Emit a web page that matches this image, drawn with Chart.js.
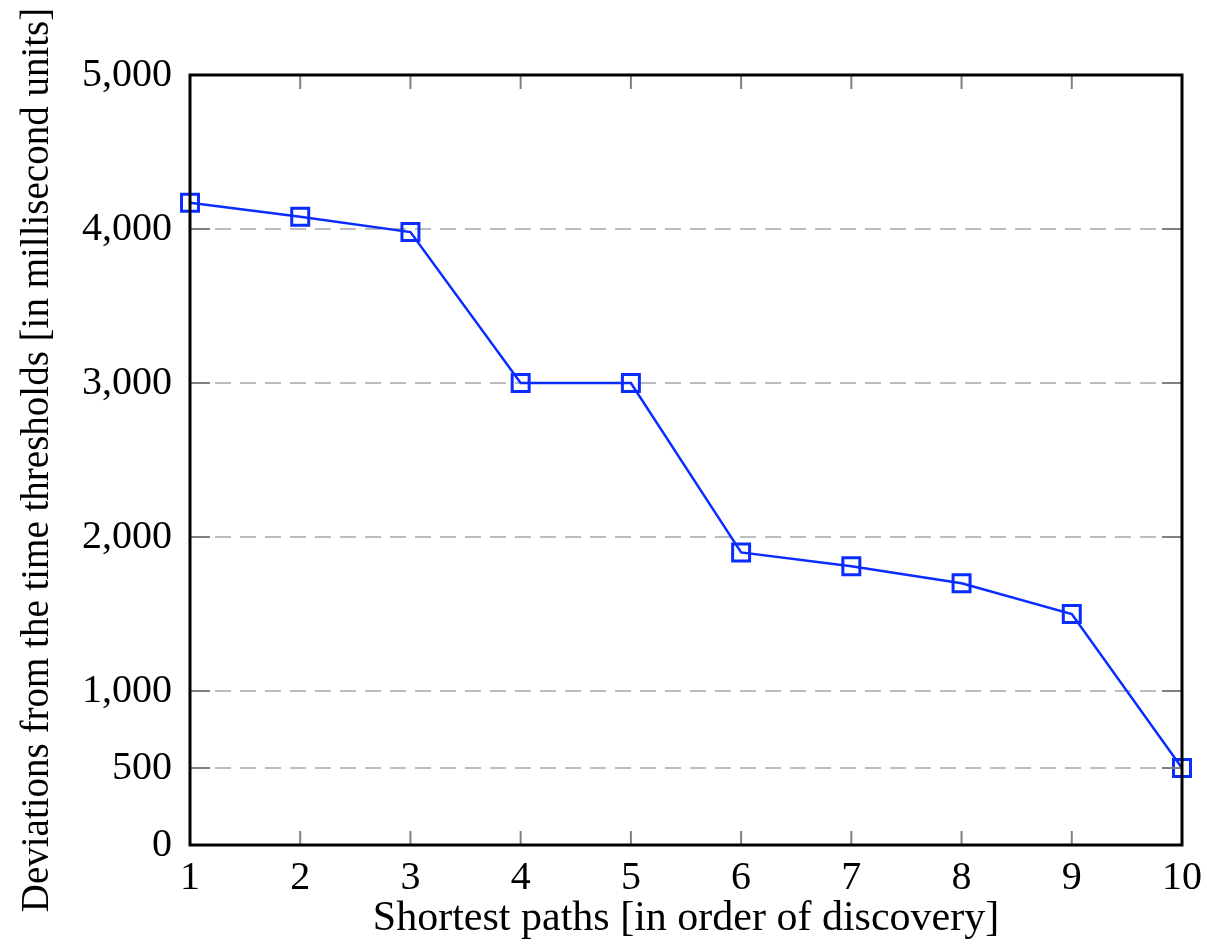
<!DOCTYPE html>
<html>
<head>
<meta charset="utf-8">
<script src="https://cdn.jsdelivr.net/npm/chart.js@4"></script>
<style>
  html, body { margin: 0; padding: 0; background: #fff; }
  #wrap { width: 1207px; height: 944px; }
</style>
</head>
<body>
<div id="wrap"><canvas id="deviationChart" width="1207" height="944"></canvas></div>
<script>
// Shortest paths vs deviation from time thresholds
const pathIndex = [1, 2, 3, 4, 5, 6, 7, 8, 9, 10];
const deviations = [4170, 4080, 3980, 3000, 3000, 1900, 1810, 1700, 1500, 500];
const yTickValues = [0, 500, 1000, 2000, 3000, 4000, 5000];

const serif = "'Liberation Serif', 'DejaVu Serif', serif";
const blue = '#0a2cff';

// frame + inward tick marks, like the pgfplots original
const framePlugin = {
    id: 'frame',
    afterDraw(chart) {
        const { ctx, chartArea: a, scales } = chart;
        ctx.save();
        ctx.strokeStyle = '#808080';
        ctx.lineWidth = 2;
        pathIndex.forEach(v => {
            const x = scales.x.getPixelForValue(v);
            ctx.beginPath();
            ctx.moveTo(x, a.bottom); ctx.lineTo(x, a.bottom - 14);
            ctx.moveTo(x, a.top); ctx.lineTo(x, a.top + 14);
            ctx.stroke();
        });
        yTickValues.forEach(v => {
            const y = scales.y.getPixelForValue(v);
            ctx.beginPath();
            ctx.moveTo(a.left, y); ctx.lineTo(a.left + 20, y);
            ctx.moveTo(a.right, y); ctx.lineTo(a.right - 20, y);
            ctx.stroke();
        });
        ctx.strokeStyle = '#000';
        ctx.lineWidth = 3;
        ctx.strokeRect(a.left, a.top, a.right - a.left, a.bottom - a.top);
        ctx.restore();
    }
};

new Chart(document.getElementById('deviationChart'), {
    type: 'line',
    data: {
        datasets: [{
            data: pathIndex.map((x, i) => ({ x: x, y: deviations[i] })),
            borderColor: blue,
            borderWidth: 2.5,
            pointStyle: 'rect',
            pointRadius: 12,
            pointBorderWidth: 3,
            pointBorderColor: blue,
            pointBackgroundColor: 'rgba(0,0,0,0)',
            tension: 0,
            clip: false
        }]
    },
    options: {
        responsive: false,
        animation: false,
        devicePixelRatio: 1,
        layout: { padding: { left: 0, top: 75, right: 25, bottom: 0 } },
        plugins: { legend: { display: false }, tooltip: { enabled: false } },
        scales: {
            x: {
                type: 'linear',
                min: 1,
                max: 10,
                afterBuildTicks: s => { s.ticks = pathIndex.map(v => ({ value: v })); },
                afterFit: s => { s.height = 99; },
                grid: { display: false },
                border: { display: false },
                ticks: {
                    color: '#000',
                    padding: 1,
                    font: { family: serif, size: 40 },
                    maxRotation: 0
                },
                title: {
                    display: true,
                    text: 'Shortest paths [in order of discovery]',
                    color: '#000',
                    font: { family: serif, size: 42 },
                    padding: { top: 0, bottom: 0 }
                }
            },
            y: {
                min: 0,
                max: 5000,
                afterBuildTicks: s => { s.ticks = yTickValues.map(v => ({ value: v })); },
                afterFit: s => { s.width = 190; },
                grid: {
                    color: c => (c.tick.value === 0 || c.tick.value === 5000) ? 'rgba(0,0,0,0)' : '#bdbdbd',
                    lineWidth: 2,
                    drawTicks: false
                },
                border: { display: false, dash: [16, 9] },
                ticks: {
                    color: '#000',
                    padding: 18,
                    font: { family: serif, size: 40 },
                    callback: v => v.toLocaleString('en-US')
                },
                title: {
                    display: true,
                    text: 'Deviations from the time thresholds [in millisecond units]',
                    color: '#000',
                    font: { family: serif, size: 39 },
                    padding: { top: 14, bottom: 0 }
                }
            }
        }
    },
    plugins: [framePlugin]
});
</script>
</body>
</html>
